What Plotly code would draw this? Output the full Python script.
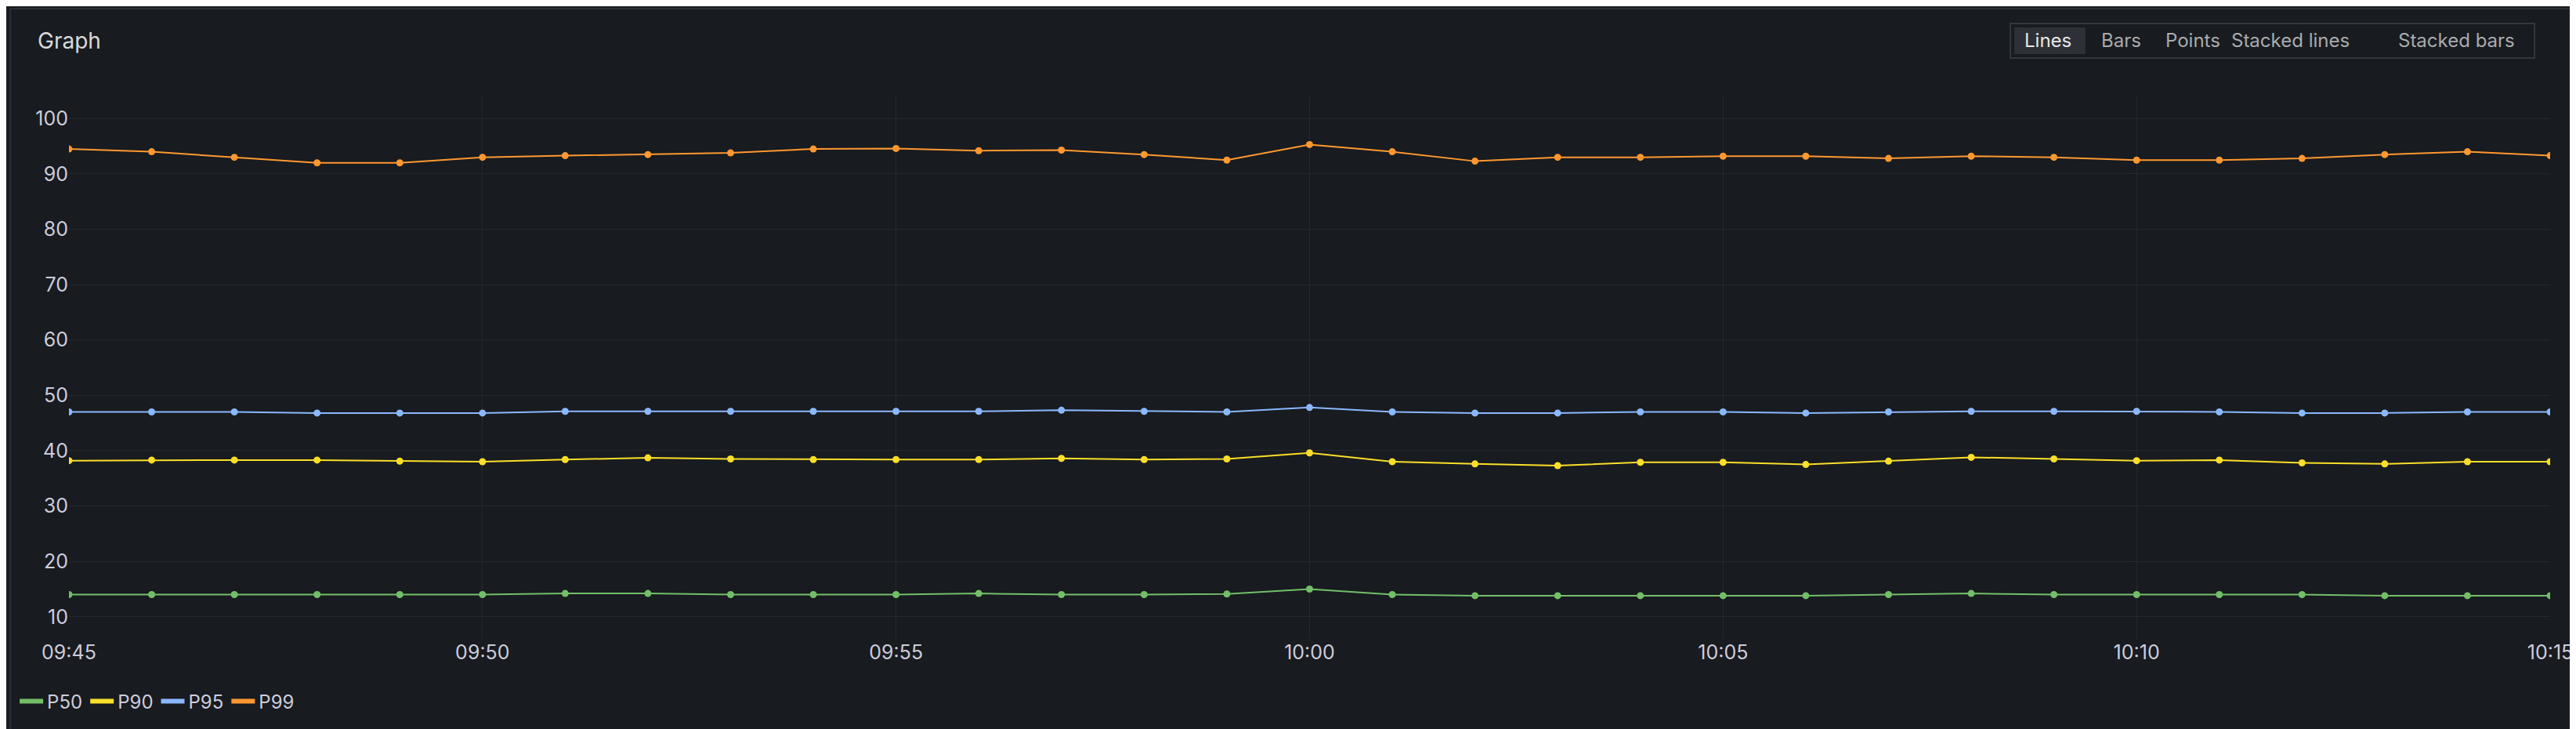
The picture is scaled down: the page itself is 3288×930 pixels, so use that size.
import pandas as pd
import plotly.graph_objects as go

# Data
times = pd.date_range("2024-01-01 09:45", "2024-01-01 10:15", freq="1min")

p50 = [14, 14, 14, 14, 14, 14, 14.2, 14.2, 14, 14, 14, 14.2, 14, 14, 14.1, 15,
       14, 13.8, 13.8, 13.8, 13.8, 13.8, 14, 14.2, 14, 14, 14, 14, 13.8, 13.8, 13.8]
p90 = [38.2, 38.3, 38.3, 38.3, 38.1, 38, 38.4, 38.7, 38.5, 38.4, 38.4, 38.4, 38.6, 38.4, 38.5, 39.6,
       38, 37.6, 37.3, 37.9, 37.9, 37.5, 38.1, 38.8, 38.5, 38.2, 38.3, 37.8, 37.6, 38, 38]
p95 = [47, 47, 47, 46.8, 46.8, 46.8, 47.1, 47.1, 47.1, 47.1, 47.1, 47.1, 47.3, 47.1, 47, 47.8,
       47, 46.8, 46.8, 47, 47, 46.8, 47, 47.1, 47.1, 47.1, 47, 46.8, 46.8, 47, 47]
p99 = [94.5, 94, 93, 92, 92, 93, 93.3, 93.5, 93.8, 94.5, 94.6, 94.2, 94.3, 93.5, 92.5, 95.3,
       94, 92.3, 93, 93, 93.2, 93.2, 92.8, 93.2, 93, 92.5, 92.5, 92.8, 93.5, 94, 93.3]

series = [("P50", p50, "#73bf69"), ("P90", p90, "#fade2a"),
          ("P95", p95, "#8ab8ff"), ("P99", p99, "#ff9830")]

buttons = ["Lines", "Bars", "Points", "Stacked lines", "Stacked bars"]
button_x = [2608, 2702, 2793, 2918, 3130]  # centres in pixels

W, H = 3288, 930
L, R, T, B = 78, 38, 115, 123


def px(x):
    return (x - L) / (W - L - R)


def py(y):
    return (H - B - y) / (H - T - B)


fig = go.Figure()
for name, vals, col in series:
    fig.add_trace(go.Scatter(x=times, y=vals, name=name, mode="lines+markers",
                             line=dict(color=col, width=2), showlegend=False,
                             marker=dict(color=col, size=9)))
# legend entries: short thick line only
for name, vals, col in series:
    fig.add_trace(go.Scatter(x=[None], y=[None], name=name, mode="lines",
                             line=dict(color=col, width=6)))

shapes = [
    dict(type="rect", xref="paper", yref="paper", x0=px(3), x1=px(W - 3), y0=py(H - 3), y1=py(3),
         line=dict(color="#2c2f35", width=2), fillcolor="rgba(0,0,0,0)", layer="below"),
    dict(type="rect", xref="paper", yref="paper", x0=px(2560), x1=px(3230), y0=py(66), y1=py(22),
         line=dict(color="#34373d", width=2), fillcolor="rgba(0,0,0,0)"),
    dict(type="rect", xref="paper", yref="paper", x0=px(2565), x1=px(2656), y0=py(61), y1=py(27),
         line=dict(width=0), fillcolor="#2d3036"),
]

annotations = [dict(text="Graph", xref="paper", yref="paper", x=px(36), y=py(44),
                    xanchor="left", yanchor="middle", showarrow=False,
                    font=dict(size=28, color="#d8d9da", family="Inter"))]
for i, (b, bx) in enumerate(zip(buttons, button_x)):
    annotations.append(dict(text=b, xref="paper", yref="paper", x=px(bx), y=py(44),
                            xanchor="center", yanchor="middle", showarrow=False,
                            font=dict(size=24, color="#e6e7e8" if i == 0 else "#a9abaf",
                                      family="Inter")))

fig.update_layout(
    width=W, height=H,
    margin=dict(l=L, r=R, t=T, b=B),
    paper_bgcolor="#181b1f", plot_bgcolor="#181b1f",
    font=dict(family="Inter", color="#ccccdc", size=25),
    shapes=shapes, annotations=annotations,
    showlegend=True,
    legend=dict(orientation="h", x=px(10), y=py(887), xanchor="left", yanchor="middle",
                font=dict(size=24, color="#ccccdc"), itemwidth=30),
    xaxis=dict(range=[times[0], times[-1]], dtick=5 * 60 * 1000, tickformat="%H:%M",
               showgrid=True, gridcolor="#25282d", gridwidth=1, zeroline=False,
               showline=False, ticks="", tickfont=dict(size=25)),
    yaxis=dict(range=[6, 104], tickvals=list(range(10, 101, 10)),
               showgrid=True, gridcolor="#25282d", gridwidth=1, zeroline=False,
               showline=False, ticks="", tickfont=dict(size=25)),
)

fig.write_html("out.html")
